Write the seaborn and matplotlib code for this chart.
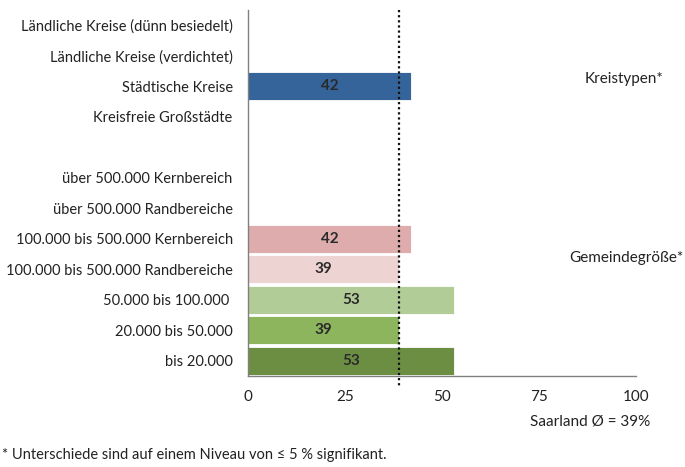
import numpy as np
import pandas as pd
import matplotlib
matplotlib.use("Agg")
import matplotlib.pyplot as plt
import seaborn as sns

categories = [
    "Ländliche Kreise (dünn besiedelt)",
    "Ländliche Kreise (verdichtet)",
    "Städtische Kreise",
    "Kreisfreie Großstädte",
    " ",
    "über 500.000 Kernbereich",
    "über 500.000 Randbereiche",
    "100.000 bis 500.000 Kernbereich",
    "100.000 bis 500.000 Randbereiche",
    "50.000 bis 100.000 ",
    "20.000 bis 50.000",
    "bis 20.000",
]
values = [np.nan, np.nan, 42, np.nan, np.nan, np.nan, np.nan, 42, 39, 53, 39, 53]
bar_colors = ["#3a6a9c", "#3a6a9c", "#34649a", "#3a6a9c", "#ffffff", "#d9a3a3", "#e8c8c8",
              "#deacac", "#eed3d3", "#b2cc97", "#8cb55e", "#6b8e43"]
xticks = [0, 25, 50, 75, 100]
saarland_avg = 39
group_labels = ["Kreistypen*", "Gemeindegröße*"]
footnote = "* Unterschiede sind auf einem Niveau von ≤ 5 % signifikant."

sns.set_style("white")
plt.rcParams["font.family"] = ["Lato", "DejaVu Sans"]

df = pd.DataFrame({"cat": categories, "val": values})
palette = dict(zip(categories, bar_colors))

fig = plt.figure(figsize=(6.85, 4.67), dpi=100)
ax = fig.add_axes([248 / 685, 1 - 376 / 467, (636 - 248) / 685, (376 - 10) / 467])

sns.barplot(data=df, x="val", y="cat", hue="cat", order=categories, hue_order=categories,
            palette=palette, orient="h", width=0.93, legend=False, ax=ax,
            edgecolor="white", linewidth=0.6, saturation=1)

ax.set_xlim(0, 100)
ax.set_ylim(len(categories) - 0.5, -0.5)
ax.set_xlabel("")
ax.set_ylabel("")

for s in ["top", "right"]:
    ax.spines[s].set_visible(False)
for s in ["left", "bottom"]:
    ax.spines[s].set_color("#808080")
    ax.spines[s].set_linewidth(1.0)

ax.set_xticks(xticks)
ax.set_xticklabels([str(t) for t in xticks], fontsize=11, color="#222222")
ax.tick_params(axis="x", direction="out", length=4, width=1, color="#808080", pad=6)

ax.set_yticks(range(len(categories)))
ax.set_yticklabels(categories, fontsize=10.5, color="#222222")
ax.tick_params(axis="y", which="major", length=0, pad=11)
ax.set_yticks(np.arange(-0.5, len(categories)), minor=True)
ax.tick_params(axis="y", which="minor", direction="inout", length=7, width=1, color="#808080")

for p in ax.patches:
    w = p.get_width()
    if np.isfinite(w) and w > 0:
        ax.text(p.get_x() + w / 2, p.get_y() + p.get_height() / 2, f"{w:.0f}",
                ha="center", va="center", fontsize=11, fontweight="bold", color="#2a2a2a")

ax.plot([saarland_avg, saarland_avg], [-0.5, 11.85], linestyle=(0, (1, 1.3)),
        color="#111111", linewidth=1.6, clip_on=False)

fig.text(624 / 685, 1 - 79 / 467, group_labels[0], ha="center", va="center", fontsize=11, color="#222222")
fig.text(626 / 685, 1 - 258 / 467, group_labels[1], ha="center", va="center", fontsize=11, color="#222222")
fig.text(590 / 685, 1 - 421 / 467, f"Saarland Ø = {saarland_avg}%", ha="center", va="center",
         fontsize=11, color="#222222")
fig.text(2 / 685, 1 - 455 / 467, footnote, ha="left", va="center", fontsize=10.5, color="#222222")

fig.savefig("out.png", dpi=100)
